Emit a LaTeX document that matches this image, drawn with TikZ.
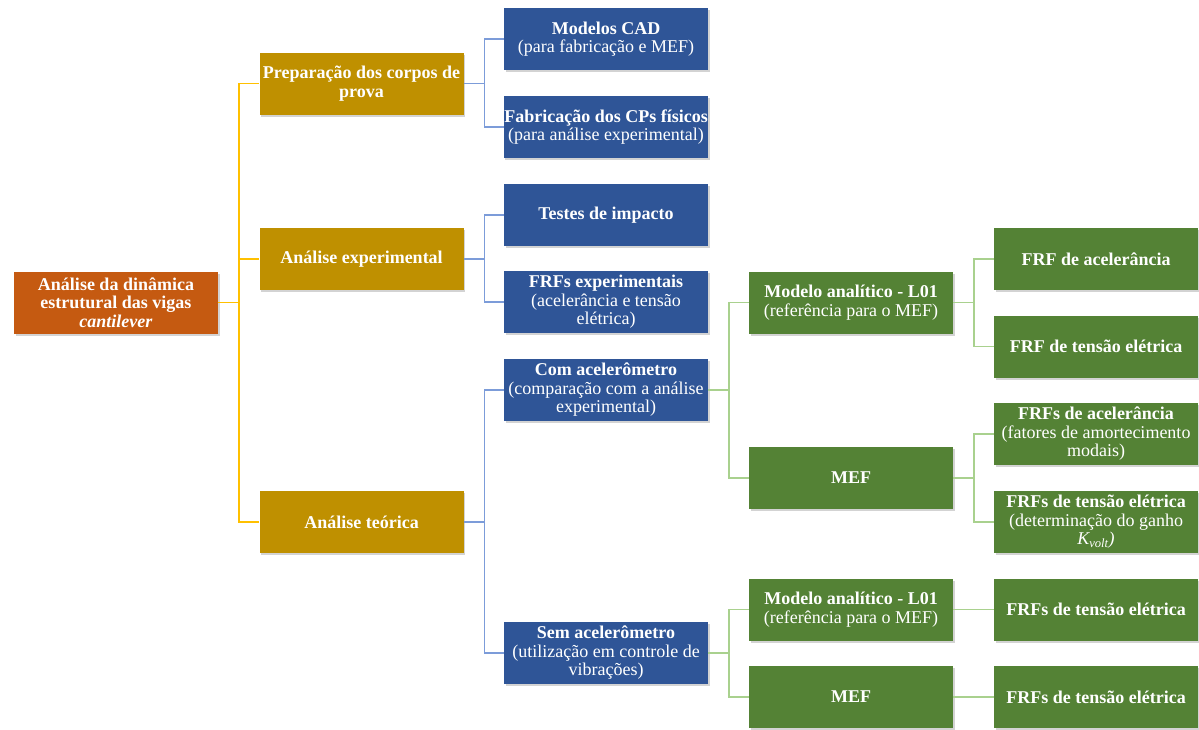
\documentclass[tikz,border=0pt]{standalone}
\usepackage{fontspec}
\setmainfont{Liberation Serif}
\usetikzlibrary{shadows}

\definecolor{orangebg}{HTML}{C55A11}
\definecolor{goldbg}{HTML}{BF9000}
\definecolor{bluebg}{HTML}{2F5597}
\definecolor{greenbg}{HTML}{548235}
\definecolor{goldline}{HTML}{FFC000}
\definecolor{blueline}{HTML}{7C9CD9}
\definecolor{greenline}{HTML}{A9D18E}

\begin{document}
\begin{tikzpicture}[x=1pt,y=-1pt]
    \tikzset{every node/.style={text=white,align=center,minimum width=204pt,minimum height=62pt,inner sep=0.5pt,
        font=\fontsize{18}{18.5}\selectfont,drop shadow={shadow xshift=1.5pt,shadow yshift=-2pt,opacity=0.35}}}
    \tikzset{edge/.style={line width=1.5pt}}

    \useasboundingbox (0,0) rectangle (1199,729);

    \node[fill=orangebg] (1) at (116, 302.5) {\textbf{Análise da dinâmica}\\\textbf{estrutural das vigas}\\\textbf{\textit{cantilever}}};

    \node[fill=goldbg] (21) at (361.5, 83.5) {\textbf{Preparação dos corpos de}\\\textbf{prova}};
    \node[fill=goldbg] (22) at (361.5, 259) {\textbf{Análise experimental}};
    \node[fill=goldbg] (23) at (361.5, 522) {\textbf{Análise teórica}};

    \node[fill=bluebg] (31) at (606, 39) {\textbf{Modelos CAD}\\(para fabricação e MEF)};
    \node[fill=bluebg] (32) at (606, 127) {\textbf{Fabricação dos CPs físicos}\\(para análise experimental)};
    \node[fill=bluebg] (33) at (606, 215) {\textbf{Testes de impacto}};
    \node[fill=bluebg] (34) at (606, 302) {\textbf{FRFs experimentais}\\(acelerância e tensão\\elétrica)};
    \node[fill=bluebg] (35) at (606, 390) {\textbf{Com acelerômetro}\\(comparação com a análise\\experimental)};
    \node[fill=bluebg] (36) at (606, 653) {\textbf{Sem acelerômetro}\\(utilização em controle de\\vibrações)};

    \node[fill=greenbg] (41) at (851, 302.5) {\textbf{Modelo analítico - L01}\\(referência para o MEF)};
    \node[fill=greenbg] (42) at (851, 478) {\textbf{MEF}};
    \node[fill=greenbg] (43) at (851, 609.5) {\textbf{Modelo analítico - L01}\\(referência para o MEF)};
    \node[fill=greenbg] (44) at (851, 697) {\textbf{MEF}};

    \node[fill=greenbg] (51) at (1096, 259) {\textbf{FRF de acelerância}};
    \node[fill=greenbg] (52) at (1096, 346.5) {\textbf{FRF de tensão elétrica}};
    \node[fill=greenbg] (53) at (1096, 434) {\textbf{FRFs de acelerância}\\(fatores de amortecimento\\modais)};
    \node[fill=greenbg] (54) at (1096, 522) {\textbf{FRFs de tensão elétrica}\\(determinação do ganho\\\textit{K\textsubscript{volt})}};
    \node[fill=greenbg] (55) at (1096, 609.5) {\textbf{FRFs de tensão elétrica}};
    \node[fill=greenbg] (56) at (1096, 697) {\textbf{FRFs de tensão elétrica}};

    \begin{scope}[edge]
       \draw[goldline] (1.east) -- ++(21,0) |- (21.west);
       \draw[goldline] (1.east) -- ++(21,0) |- (22.west);
       \draw[goldline] (1.east) -- ++(21,0) |- (23.west);

       \draw[blueline] (21.east) -- ++(21,0) |- (31.west);
       \draw[blueline] (21.east) -- ++(21,0) |- (32.west);
       \draw[blueline] (22.east) -- ++(21,0) |- (33.west);
       \draw[blueline] (22.east) -- ++(21,0) |- (34.west);
       \draw[blueline] (23.east) -- ++(21,0) |- (35.west);
       \draw[blueline] (23.east) -- ++(21,0) |- (36.west);

       \draw[greenline] (35.east) -- ++(21,0) |- (41.west);
       \draw[greenline] (35.east) -- ++(21,0) |- (42.west);
       \draw[greenline] (36.east) -- ++(21,0) |- (43.west);
       \draw[greenline] (36.east) -- ++(21,0) |- (44.west);

       \draw[greenline] (41.east) -- ++(21,0) |- (51.west);
       \draw[greenline] (41.east) -- ++(21,0) |- (52.west);
       \draw[greenline] (42.east) -- ++(21,0) |- (53.west);
       \draw[greenline] (42.east) -- ++(21,0) |- (54.west);
       \draw[greenline] (43.east) -- (55.west);
       \draw[greenline] (44.east) -- (56.west);
    \end{scope}
\end{tikzpicture}
\end{document}
